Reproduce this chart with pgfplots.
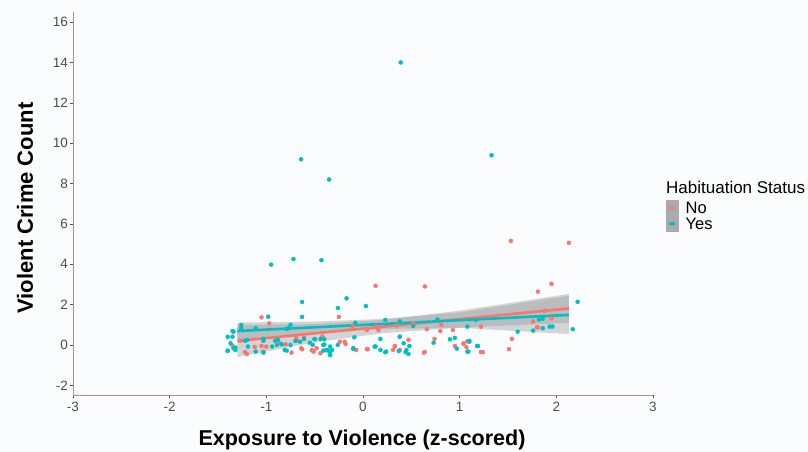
\documentclass[border=0pt]{standalone}
\usepackage{pgfplots}
\pgfplotsset{compat=1.18}
\usepackage{fontspec}
\setmainfont{Liberation Sans}
\definecolor{redc}{RGB}{248,118,109}
\definecolor{tealc}{RGB}{0,191,196}
\definecolor{axc}{RGB}{190,140,122}
\definecolor{tickc}{RGB}{77,77,77}
\definecolor{bgc}{RGB}{251,252,254}
\begin{document}
\begin{tikzpicture}[x=1pt,y=1pt]
\fill[bgc] (0,0) rectangle (808,452);
\path[use as bounding box] (0,0) rectangle (808,452);
\begin{axis}[
  at={(73pt,57pt)}, anchor=south west,
  scale only axis, width=580pt, height=383pt,
  xmin=-3, xmax=3, ymin=-2.48, ymax=16.5,
  axis x line*=bottom, axis y line*=left,
  axis line style={axc, line width=0.6pt, -},
  xtick={-3,-2,-1,0,1,2,3}, xticklabels={-3,-2,-1,0,1,2,3},
  ytick={-2,0,2,4,6,8,10,12,14,16}, yticklabels={-2,0,2,4,6,8,10,12,14,16},
  tick style={tickc, line width=0.5pt},
  tick align=outside, major tick length=3pt,
  ticklabel style={font=\fontsize{13.5}{13.5}\selectfont, text=tickc},
  xticklabel style={yshift=-0.5pt},
  yticklabel style={xshift=1.5pt},
  clip=false,
  legend style={at={(axis description cs:1.0225,0.51)}, anchor=north west,
    draw=none, fill=none, inner sep=0pt, outer sep=0pt,
    row sep=-1pt, font=\fontsize{16.5}{16.5}\selectfont,
    nodes={inner sep=0pt, outer sep=0pt, text height=11.5pt, text depth=0.3pt},
    /tikz/every odd column/.append style={column sep=7pt}},
  legend cell align=left,
  legend image code/.code={
    \fill[black!33] (0pt,-7pt) rectangle (10pt,7pt);
    \draw[line width=2.2pt] (2pt,0pt) -- (8pt,0pt);
  },
]
% points: No (red)
\addplot[only marks, mark=*, mark size=2pt, redc, forget plot] table {
x y
-1.05 1.37
0.13 2.93
-0.25 1.39
-0.97 1.07
1.53 5.16
2.13 5.06
0.64 2.90
1.95 3.03
1.81 2.64
1.54 0.30
1.51 -0.21
1.80 0.88
1.76 1.17
1.95 1.34
1.88 1.70
0.35 0.97
0.81 1.00
0.66 0.78
0.80 0.69
0.93 0.74
1.22 0.91
0.38 0.41
0.33 -0.08
0.38 -0.25
0.63 -0.38
0.74 0.30
0.95 -0.05
1.04 0.05
1.08 0.18
1.07 -0.11
1.24 -0.36
-1.27 0.20
-1.22 -0.35
-1.12 -0.10
-1.00 -0.08
-0.80 0.03
-0.74 -0.38
-0.69 0.35
-0.63 -0.21
-0.53 -0.25
-0.48 -0.16
-0.42 0.41
-0.44 -0.41
-0.11 0.91
0.04 0.74
0.16 0.74
0.33 -0.05
0.04 -0.21
-0.07 -0.25
-0.08 1.07
0.14 0.91
-0.24 0.16
-0.19 0.16
-0.18 0.05
0.05 -0.21
-0.51 -0.33
0.31 -0.25
0.52 1.07
0.64 -0.35
1.04 0.08
-1.35 -0.03
-1.20 -0.45
-1.05 -0.05
-1.03 -0.33
-0.86 0.08
-0.68 0.20
-0.61 0.36
-0.64 -0.16
-0.52 -0.28
1.81 0.87
1.22 -0.35
0.47 0.25
};
% points: Yes (teal)
\addplot[only marks, mark=*, mark size=2pt, tealc, forget plot] table {
x y
0.39 14.0
1.33 9.4
-0.64 9.2
-0.35 8.2
-0.95 3.98
-0.72 4.26
-0.43 4.20
-0.63 2.13
-0.17 2.31
-0.26 1.83
0.03 1.93
-0.98 1.40
-0.63 1.39
-0.75 1.00
2.22 2.14
2.17 0.78
1.60 0.66
1.76 0.71
1.86 0.83
1.93 0.91
1.96 0.91
1.82 1.26
1.86 1.30
0.23 1.24
0.38 1.17
0.52 0.94
0.77 1.27
1.08 0.91
1.17 1.24
0.18 0.30
0.42 0.08
0.48 -0.05
0.37 -0.30
0.23 -0.36
0.44 -0.35
0.73 0.11
0.90 0.28
0.95 0.35
0.97 -0.18
1.10 0.20
1.08 -0.33
1.18 -0.05
-1.40 -0.30
-1.40 0.40
-1.35 0.69
-1.35 0.41
-1.37 0.08
-1.32 -0.13
-1.26 0.83
-1.26 0.99
-1.32 -0.25
-1.20 0.25
-1.19 -0.08
-1.11 0.83
-1.11 -0.33
-1.03 0.30
-1.03 0.21
-1.03 -0.38
-0.94 -0.08
-0.91 0.20
-0.88 0.25
-0.84 0.03
-0.79 0.79
-0.77 0.83
-0.81 -0.25
-0.75 0.00
-0.65 0.16
-0.61 0.30
-0.52 0.00
-0.50 0.30
-0.44 0.30
-0.40 0.02
-0.38 -0.25
-0.34 -0.36
-0.32 -0.25
-0.34 -0.08
-0.08 1.10
-0.09 0.38
0.13 -0.08
0.18 -0.25
-0.10 -0.16
-0.26 0.00
0.38 1.12
-0.50 0.28
-0.40 0.28
-0.41 0.00
0.12 -0.08
-0.41 -0.28
-0.36 -0.28
-0.34 -0.50
-0.10 -0.20
0.24 -0.33
0.38 0.41
0.45 -0.25
0.47 -0.45
1.09 -0.33
1.10 0.16
1.19 -0.05
-1.34 0.66
-1.34 -0.16
-1.40 -0.28
-1.22 0.21
-0.89 0.00
-0.79 -0.28
-0.70 0.20
-0.55 0.11
};
% confidence bands
\addplot[fill=black!40, fill opacity=0.4, draw=none, forget plot] coordinates {
(-1.3,1.00) (-0.5,1.03) (0.2,1.24) (1.0,1.70) (2.13,2.53)
(2.13,1.09) (1.0,0.86) (0.2,0.58) (-0.5,0.13) (-1.3,-0.60)} -- cycle;
\addplot[fill=black!40, fill opacity=0.4, draw=none, forget plot] coordinates {
(-1.3,1.11) (-0.5,1.16) (0.2,1.29) (1.0,1.61) (2.13,2.44)
(2.13,0.54) (1.0,0.85) (0.2,0.79) (-0.5,0.60) (-1.3,0.27)} -- cycle;
% fitted lines
\addplot[redc, line width=2.6pt] coordinates {(-1.3,0.20) (2.13,1.81)};
\addlegendentry{No}
\addplot[tealc, line width=2.6pt] coordinates {(-1.3,0.69) (2.13,1.49)};
\addlegendentry{Yes}
\end{axis}
\node[anchor=west, font=\fontsize{17}{17}\selectfont, inner sep=0pt] at (666,265) {Habituation Status};
\node[rotate=90, font=\bfseries\fontsize{22}{22}\selectfont, inner sep=0pt] at (25,244) {Violent Crime Count};
\node[font=\bfseries\fontsize{21.5}{21.5}\selectfont, inner sep=0pt] at (362,12) {Exposure to Violence (z-scored)};
\end{tikzpicture}
\end{document}
